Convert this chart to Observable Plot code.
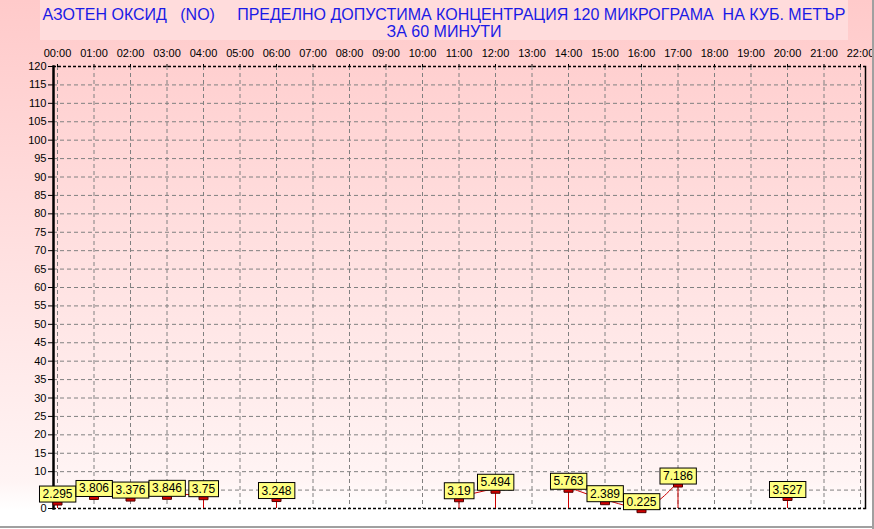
<!DOCTYPE html>
<html><head><meta charset="utf-8">
<script src="https://cdn.jsdelivr.net/npm/d3@7"></script>
<script src="https://cdn.jsdelivr.net/npm/@observablehq/plot@0.6"></script>
<style>
body{margin:0;}
#wrap{position:relative;width:874px;height:529px;overflow:hidden;font-family:"Liberation Sans",Arial,sans-serif;
 background:linear-gradient(to bottom,#ffcaca 0px,#fff4f4 480px,#ffffff 510px,#ffffff 100%);}
#title{margin-left:40px;width:808px;height:40px;margin-bottom:2px;background:#ffdcdc;color:#1a1ae6;font-size:16px;line-height:17px;text-align:center;white-space:pre;padding-top:6px;box-sizing:border-box}
#edgeB{position:absolute;left:0;top:526px;width:874px;height:2px;background:#a0a0a0}
#edgeR{position:absolute;left:872px;top:0;width:2px;height:529px;background:#a0a0a0}
</style></head>
<body>
<div id="wrap">
<div id="title"></div>
<div id="chart"></div>
<div id="edgeB"></div><div id="edgeR"></div>
</div>
<script>
const titleLines = ["АЗОТЕН ОКСИД   (NO)     ПРЕДЕЛНО ДОПУСТИМА КОНЦЕНТРАЦИЯ 120 МИКРОГРАМА  НА КУБ. МЕТЪР", "ЗА 60 МИНУТИ"];
const hours = [0, 1, 2, 3, 4, 6, 11, 12, 14, 15, 16, 17, 20];
const values = [2.295, 3.806, 3.376, 3.846, 3.75, 3.248, 3.19, 5.494, 5.763, 2.389, 0.225, 7.186, 3.527];
const hourTicks = d3.range(0, 23);
const yTicks = d3.range(0, 125, 5);

document.getElementById("title").textContent = titleLines.join("\n");

// group consecutive hours into runs
let run = 0;
const rows = hours.map((h, i) => {
  if (i > 0 && h - hours[i - 1] > 1) run++;
  return {h, v: values[i], run};
});
rows.forEach((d, i) => {
  const prev = rows[i - 1], next = rows[i + 1];
  d.end = !prev || prev.run !== d.run || !next || next.run !== d.run;
});

const rectSymbol = {draw(ctx) { ctx.rect(-4.5, 0, 9, 5); }};
const dash = "4,3";

const chart = Plot.plot({
  width: 874,
  height: 487,
  marginTop: 24,
  marginBottom: 21,
  marginLeft: 53,
  marginRight: 9,
  style: {background: "transparent", fontFamily: "'Liberation Sans', Arial, sans-serif", overflow: "visible"},
  x: {domain: [0, 22], insetLeft: 4, insetRight: 5, label: null},
  y: {domain: [0, 120], label: null},
  marks: [
    Plot.ruleY(yTicks.filter(t => t > 0 && t < 120), {y: d => d, stroke: "#808080", strokeDasharray: dash, strokeWidth: 1}),
    Plot.ruleX(hourTicks, {x: d => d, stroke: "#808080", strokeDasharray: dash, strokeWidth: 1}),
    Plot.ruleY([120], {y: d => d, stroke: "#000", strokeDasharray: "3,2", strokeWidth: 1.5}),
    Plot.ruleY([0], {y: d => d, stroke: "#000", strokeDasharray: "3,2", strokeWidth: 1.5}),
    Plot.frame({anchor: "left", stroke: "#000", strokeWidth: 2.5}),
    Plot.frame({anchor: "right", stroke: "#000", strokeWidth: 1.5}),
    Plot.axisX({anchor: "top", ticks: hourTicks, tickFormat: h => String(h).padStart(2, "0") + ":00", tickSize: 3, tickPadding: 7, fontSize: 11, color: "#000", label: null}),
    Plot.axisY({ticks: yTicks, tickFormat: d => String(d), tickSize: 5, tickPadding: 2, fontSize: 11, color: "#000", label: null}),
    Plot.line(rows, {x: "h", y: "v", z: "run", stroke: "#cc0000", strokeWidth: 1, curve: "monotone-x"}),
    Plot.ruleX(rows.filter(d => d.end), {x: "h", y1: 0, y2: "v", stroke: "#cc0000", strokeWidth: 1}),
    Plot.dot(rows, {x: "h", y: "v", symbol: rectSymbol, fill: "#d00000", stroke: "#500000", strokeWidth: 1}),
    Plot.text(rows, {x: "h", y: "v", text: d => String(d.v), lineAnchor: "bottom", dy: -2, fontSize: 12, fill: "#000", className: "vlab"})
  ]
});
document.getElementById("chart").appendChild(chart);

// yellow boxes behind the value labels, sized from the rendered text
chart.querySelectorAll(".vlab text").forEach(t => {
  const b = t.getBBox();
  const r = document.createElementNS("http://www.w3.org/2000/svg", "rect");
  r.setAttribute("x", b.x - 3);
  r.setAttribute("y", b.y - 1);
  r.setAttribute("width", b.width + 6);
  r.setAttribute("height", b.height + 2);
  const tr = t.getAttribute("transform");
  if (tr) r.setAttribute("transform", tr);
  r.setAttribute("fill", "#ffff80");
  r.setAttribute("stroke", "#000");
  r.setAttribute("stroke-width", "1");
  t.parentNode.insertBefore(r, t);
});
</script>
</body></html>
